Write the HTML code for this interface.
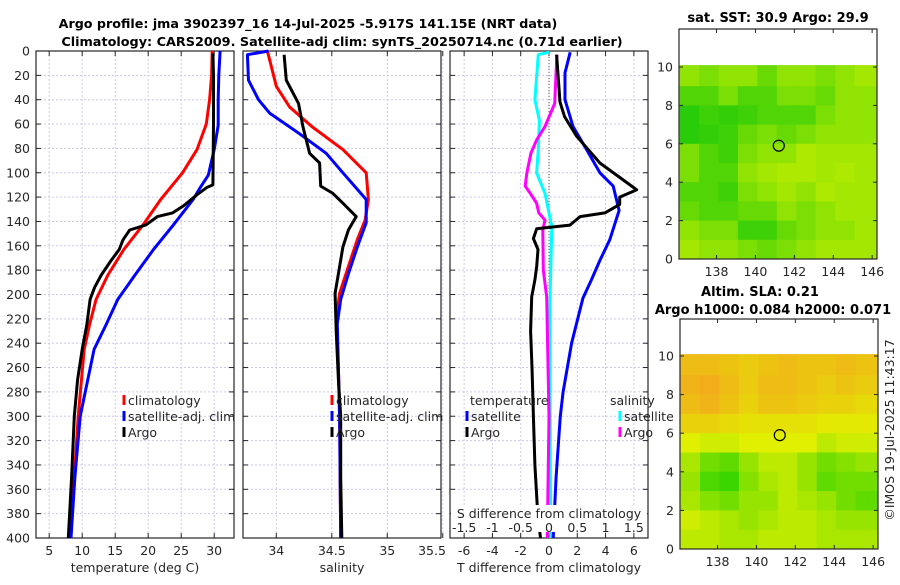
<!DOCTYPE html>
<html><head><meta charset="utf-8">
<style>
html,body{margin:0;padding:0;background:#fff;}
svg text{font-family:"DejaVu Sans","Liberation Sans",sans-serif;fill:#262626;}
</style></head>
<body>
<svg id="fig" xmlns="http://www.w3.org/2000/svg" width="900" height="580" viewBox="0 0 900 580">
<text x="308" y="28" font-size="12.7" font-weight="bold" text-anchor="middle" style="fill:#000">Argo profile: jma 3902397_16 14-Jul-2025 -5.917S 141.15E (NRT data)</text>
<text x="342" y="46" font-size="12.8" font-weight="bold" text-anchor="middle" style="fill:#000">Climatology: CARS2009. Satellite-adj clim: synTS_20250714.nc (0.71d earlier)</text>
<text x="778" y="22" font-size="13" font-weight="bold" text-anchor="middle" style="fill:#000">sat. SST: 30.9 Argo: 29.9</text>
<text x="760" y="296" font-size="13" font-weight="bold" text-anchor="middle" style="fill:#000">Altim. SLA: 0.21</text>
<text x="773" y="314" font-size="13" font-weight="bold" text-anchor="middle" style="fill:#000">Argo h1000: 0.084 h2000: 0.071</text>
<text x="0" y="0" font-size="12.5" text-anchor="middle" transform="translate(894,430) rotate(-90)">©IMOS 19-Jul-2025 11:43:17</text>
<g id="plots"></g>
</svg>
<script>
// ---- profile data ----
const tClimDepth = [0,20,40,60,81,100,122,143,163,184,204,225,245,300,350,400];
const tClimVals  = [29.7,29.6,29.3,28.8,27.4,25.2,21.9,19.2,16.3,13.9,12.1,11.1,10.3,9.4,8.8,8.2];
const tSatDepth = [0,20,40,61,81,102,112,122,143,163,184,204,225,245,300,350,400];
const tSatVals  = [30.9,30.7,30.6,30.6,30.0,29.1,27.9,26.8,23.8,20.8,18.0,15.4,13.6,11.8,9.7,8.9,8.3];
const tArgoDepth = [2,20,60,110,112,118,127,133,136,143,147,155,163,172,184,194,204,225,245,270,300,350,400];
const tArgoVals  = [29.8,29.9,29.9,29.8,28.9,27.4,25.4,23.7,21.4,19.6,17.2,16.2,15.6,14.4,12.9,11.9,11.2,10.7,10.0,9.3,8.8,8.4,7.9];

const sClimDepth = [0,2,29,46,62,81,100,122,139,155,177,199,221,260,300,400];
const sClimVals  = [33.92,33.925,34.0,34.12,34.32,34.6,34.81,34.83,34.8,34.73,34.65,34.57,34.54,34.56,34.57,34.58];
const sSatDepth = [0,3,24,40,51,68,84,100,122,141,161,183,204,224,260,300,400];
const sSatVals  = [33.93,33.74,33.75,33.84,33.94,34.21,34.45,34.6,34.81,34.81,34.73,34.65,34.58,34.55,34.56,34.57,34.58];
const sArgoDepth = [3,24,43,62,84,92,111,117,125,136,147,161,183,199,230,270,300,350,400];
const sArgoVals  = [34.07,34.09,34.2,34.24,34.3,34.39,34.4,34.51,34.6,34.72,34.65,34.6,34.56,34.53,34.54,34.56,34.58,34.58,34.59];

const dTSatDepth = [1,18,40,62,81,100,111,131,155,172,188,203,240,280,300,350,400];
const dTSatVals  = [1.5,1.13,1.13,1.7,2.66,3.6,4.54,4.96,4.3,3.6,3.0,2.4,1.6,1.0,0.8,0.5,0.3];
const dTArgoDepth = [3,42,54,70,92,114,120,126,133,136,143,146,154,163,177,188,202,230,260,300,340,380,400];
const dTArgoVals  = [0.54,0.78,1.1,1.95,3.6,6.2,5.0,5.0,3.95,2.2,1.48,-0.87,-1.1,-0.78,-0.87,-1.0,-1.22,-1.3,-1.2,-1.1,-1.0,-0.8,-0.6];
const dSSatDepth = [1,3,40,57,81,100,117,133,144,202,300,400];
const dSSatVals  = [0.0,-0.19,-0.25,-0.17,-0.19,-0.22,-0.07,0.0,0.05,0.02,0.02,0.03];
const dSArgoDepth = [3,43,62,73,84,100,111,117,125,133,139,147,180,202,300,400];
const dSArgoVals  = [0.14,0.1,-0.07,-0.22,-0.32,-0.39,-0.42,-0.33,-0.22,-0.18,-0.07,-0.11,-0.1,-0.04,0.0,-0.03];

const depthTicks = [0,20,40,60,80,100,120,140,160,180,200,220,240,260,280,300,320,340,360,380,400];
const tTicks = [5,10,15,20,25,30];
const sTicks = [34,34.5,35,35.5];
const sTickLabels = ['34','34.5','35','35.5'];
const dTTicks = [-6,-4,-2,0,2,4,6];
const dSTickLabels = ['-1.5','-1','-0.5','0','0.5','1','1.5'];

// ---- map data ----
const mapLon = [136.1,137.1,138.1,139.1,140.1,141.1,142.1,143.1,144.1,145.1,146.2];
const mapLat = [10.1,9,8,7,6,5,4,3,2,1,0];
const sstGrid = [
[0.7,0.6,0.7,0.7,0.5,0.7,0.7,0.6,0.7,0.8],
[0.4,0.4,0.6,0.4,0.4,0.6,0.6,0.5,0.7,0.7],
[0.2,0.3,0.25,0.3,0.4,0.4,0.4,0.6,0.7,0.7],
[0.2,0.25,0.3,0.5,0.6,0.5,0.6,0.7,0.7,0.7],
[0.6,0.4,0.3,0.6,0.7,0.7,0.85,0.8,0.8,0.8],
[0.6,0.4,0.4,0.7,0.8,0.85,0.85,0.8,0.85,0.8],
[0.4,0.4,0.3,0.6,0.7,0.8,0.7,0.85,0.8,0.8],
[0.5,0.4,0.4,0.5,0.5,0.7,0.6,0.7,0.8,0.8],
[0.7,0.6,0.6,0.3,0.3,0.5,0.6,0.7,0.7,0.8],
[0.8,0.7,0.7,0.6,0.5,0.6,0.7,0.8,0.8,0.8]];
const slaGrid = [
[0.85,0.85,0.8,0.75,0.8,0.85,0.8,0.8,0.85,0.8],
[0.9,0.95,0.85,0.75,0.85,0.85,0.8,0.75,0.8,0.75],
[0.85,0.9,0.8,0.7,0.8,0.8,0.75,0.7,0.7,0.65],
[0.7,0.7,0.65,0.6,0.6,0.6,0.6,0.55,0.55,0.55],
[0.5,0.45,0.45,0.5,0.5,0.5,0.5,0.4,0.45,0.45],
[0.35,0.2,0.15,0.3,0.4,0.4,0.3,0.2,0.25,0.3],
[0.3,0.1,0.05,0.25,0.35,0.4,0.3,0.15,0.2,0.2],
[0.35,0.25,0.2,0.3,0.3,0.4,0.35,0.3,0.2,0.15],
[0.45,0.4,0.35,0.3,0.35,0.4,0.4,0.35,0.3,0.3],
[0.4,0.4,0.35,0.35,0.4,0.4,0.4,0.35,0.35,0.35]];
const argoLon = [141.2];
const argoLat = [5.9];
const mapXTicks = [138,140,142,144,146];
const mapYTicks = [0,2,4,6,8,10];

const NS='http://www.w3.org/2000/svg';
const root=document.getElementById('plots');
function mk(tag,attrs,parent){const e=document.createElementNS(NS,tag);for(const k in attrs)e.setAttribute(k,attrs[k]);(parent||root).appendChild(e);return e;}

const Y0=51, YS=487/400;
const yD = d => Y0 + d*YS;
const panels = {
  temp:{x0:36,x1:234,lo:3,hi:33},
  sal:{x0:243,x1:441,lo:33.7,hi:35.484},
  diff:{x0:450,x1:648,lo:-7,hi:7}
};
function xf(p){return v => p.x0 + (v-p.lo)/(p.hi-p.lo)*(p.x1-p.x0);}
const xT=xf(panels.temp), xS=xf(panels.sal), xDT=xf(panels.diff);
const xDS = v => xDT(v*4);

function frame(p,name,gridXs){
  const g=mk('g',{});
  
  
  gridXs.forEach(x=>{const l=mk('line',{x1:x,x2:x,y1:Y0,y2:yD(400),stroke:'#d8c8e8','stroke-width':1,'stroke-dasharray':'2,2'},g);
    });
  depthTicks.forEach(d=>{const l=mk('line',{x1:p.x0,x2:p.x1,y1:yD(d),y2:yD(d),stroke:'#c8c8f0','stroke-width':1,'stroke-dasharray':'2,2'},g);
    
    mk('line',{x1:p.x0,x2:p.x0+5,y1:yD(d),y2:yD(d),stroke:'#262626'},g);
    mk('line',{x1:p.x1-5,x2:p.x1,y1:yD(d),y2:yD(d),stroke:'#262626'},g);});
  gridXs.forEach(x=>{mk('line',{x1:x,x2:x,y1:yD(400),y2:yD(400)-5,stroke:'#262626'},g);mk('line',{x1:x,x2:x,y1:Y0,y2:Y0+5,stroke:'#262626'},g);});
  const r=mk('rect',{x:p.x0,y:Y0,width:p.x1-p.x0,height:yD(400)-Y0,fill:'none',stroke:'#262626','stroke-width':1.2},g);
  
  return g;
}
function line(xs,ds,xfn,color,name,extra){
  const pts=xs.map((v,i)=>xfn(v).toFixed(1)+','+yD(ds[i]).toFixed(1)).join(' ');
  const e=mk('polyline',Object.assign({points:pts,fill:'none',stroke:color,'stroke-width':3,'stroke-linejoin':'round'},extra||{}));
  
  
  return e;
}
function txt(x,y,s,attrs,name){const e=mk('text',Object.assign({x:x,y:y,'font-size':12.5},attrs||{}));e.textContent=s;
  
  
  return e;}

// panel 1
frame(panels.temp,'temperature-axes',tTicks.map(xT));
depthTicks.forEach(d=>txt(30,yD(d)+4.5,String(d),{'text-anchor':'end'},'y-tick-label'));
tTicks.forEach(t=>txt(xT(t),555,String(t),{'text-anchor':'middle'},'x-tick-label'));
txt(135,572,'temperature (deg C)',{'text-anchor':'middle'},'x-axis-title');
line(tClimVals,tClimDepth,xT,'#ff0000','temp-climatology-line');
line(tSatVals,tSatDepth,xT,'#0000ff','temp-satellite-line');
line(tArgoVals,tArgoDepth,xT,'#000000','temp-argo-line');

// panel 2
frame(panels.sal,'salinity-axes',sTicks.map(xS));
sTicks.forEach((s,i)=>txt(Math.min(xS(s),432),555,sTickLabels[i],{'text-anchor':'middle'},'x-tick-label'));
txt(342,572,'salinity',{'text-anchor':'middle'},'x-axis-title');
line(sClimVals,sClimDepth,xS,'#ff0000','sal-climatology-line');
line(sSatVals,sSatDepth,xS,'#0000ff','sal-satellite-line');
line(sArgoVals,sArgoDepth,xS,'#000000','sal-argo-line');

// panel 3
frame(panels.diff,'difference-axes',dTTicks.map(xDT));
const z=mk('line',{x1:xDT(0),x2:xDT(0),y1:Y0,y2:yD(400),stroke:'#555','stroke-width':1,'stroke-dasharray':'1,2'});


line(dSSatVals,dSSatDepth,xDS,'#00ffff','dS-satellite-line');
line(dSArgoVals,dSArgoDepth,xDS,'#ff00ff','dS-argo-line');
line(dTSatVals,dTSatDepth,xDT,'#0000ff','dT-satellite-line');
line(dTArgoVals,dTArgoDepth,xDT,'#000000','dT-argo-line');
const bg=mk('rect',{x:451,y:505,width:196,height:27,fill:'#fff'});


txt(549,518,'S difference from climatology',{'text-anchor':'middle'},'s-axis-title');
dTTicks.forEach((t,i)=>txt(xDT(t),532,dSTickLabels[i],{'text-anchor':'middle'},'s-tick-label'));
dTTicks.forEach(t=>txt(xDT(t),555,String(t),{'text-anchor':'middle'},'x-tick-label'));
txt(549,572,'T difference from climatology',{'text-anchor':'middle'},'x-axis-title');

// legends
function legend(x,y,color,label){
  const b=mk('line',{x1:x,x2:x,y1:y-10,y2:y,stroke:color,'stroke-width':3});
  
  
  txt(x+4,y,label,{},'legend-label');
}
legend(124,405,'#ff0000','climatology');legend(124,421,'#0000ff','satellite-adj. clim');legend(124,437,'#000000','Argo');
legend(332,405,'#ff0000','climatology');legend(332,421,'#0000ff','satellite-adj. clim');legend(332,437,'#000000','Argo');
txt(470,405,'temperature',{},'legend-title');txt(610,405,'salinity',{},'legend-title');
legend(467,421,'#0000ff','satellite');legend(467,437,'#000000','Argo');
legend(620,421,'#00ffff','satellite');legend(620,437,'#ff00ff','Argo');

// maps
function mix(a,b,t){return a.map((v,i)=>Math.round(v+(b[i]-v)*t));}
function rgb(c){return 'rgb('+c.join(',')+')';}
function sstColor(v){return rgb(mix([0,195,10],[205,240,0],v));}
function slaColor(v){return v<0.5?rgb(mix([40,210,0],[225,240,0],v/0.5)):rgb(mix([225,240,0],[245,165,30],(v-0.5)/0.5));}
function map(box,grid,colorFn,name){
  const lx=v=>box.x0+(v-136.07)/(146.25-136.07)*(box.x1-box.x0);
  const ly=v=>box.yb-(v-0)*(box.yb-box.y10)/10;
  const g=mk('g',{});
  
  
  grid.forEach((row,r)=>row.forEach((v,c)=>{
    const x=lx(mapLon[c]),x2=lx(mapLon[c+1]),y=ly(mapLat[r]),y2=ly(mapLat[r+1]);
    const cell=mk('rect',{x:x.toFixed(1),y:y.toFixed(1),width:(x2-x+0.5).toFixed(1),height:(y2-y+0.5).toFixed(1),fill:colorFn(v)},g);
    
    
  }));
  argoLon.forEach((lo,i)=>{const c=mk('circle',{cx:lx(lo),cy:ly(argoLat[i]),r:5.5,fill:'none',stroke:'#000','stroke-width':1.2},g);
    
    });
  const r=mk('rect',{x:box.x0,y:box.yt,width:box.x1-box.x0,height:box.yb-box.yt,fill:'none',stroke:'#262626','stroke-width':1.2},g);
  
  
  mapXTicks.forEach(t=>{mk('line',{x1:lx(t),x2:lx(t),y1:box.yb,y2:box.yb-4,stroke:'#262626'},g);mk('line',{x1:lx(t),x2:lx(t),y1:box.yt,y2:box.yt+4,stroke:'#262626'},g);
    txt(lx(t),box.yb+17,String(t),{'text-anchor':'middle'},'map-x-tick-label');});
  mapYTicks.forEach(t=>{mk('line',{x1:box.x0,x2:box.x0+4,y1:ly(t),y2:ly(t),stroke:'#262626'},g);mk('line',{x1:box.x1,x2:box.x1-4,y1:ly(t),y2:ly(t),stroke:'#262626'},g);
    txt(box.x0-6,ly(t)+4.5,String(t),{'text-anchor':'end'},'map-y-tick-label');});
}
map({x0:679,x1:877,yt:29,yb:259,y10:67},sstGrid,sstColor,'sst-map');
map({x0:680,x1:878,yt:319,yb:549,y10:356},slaGrid,slaColor,'sla-map');
</script>
</body></html>
